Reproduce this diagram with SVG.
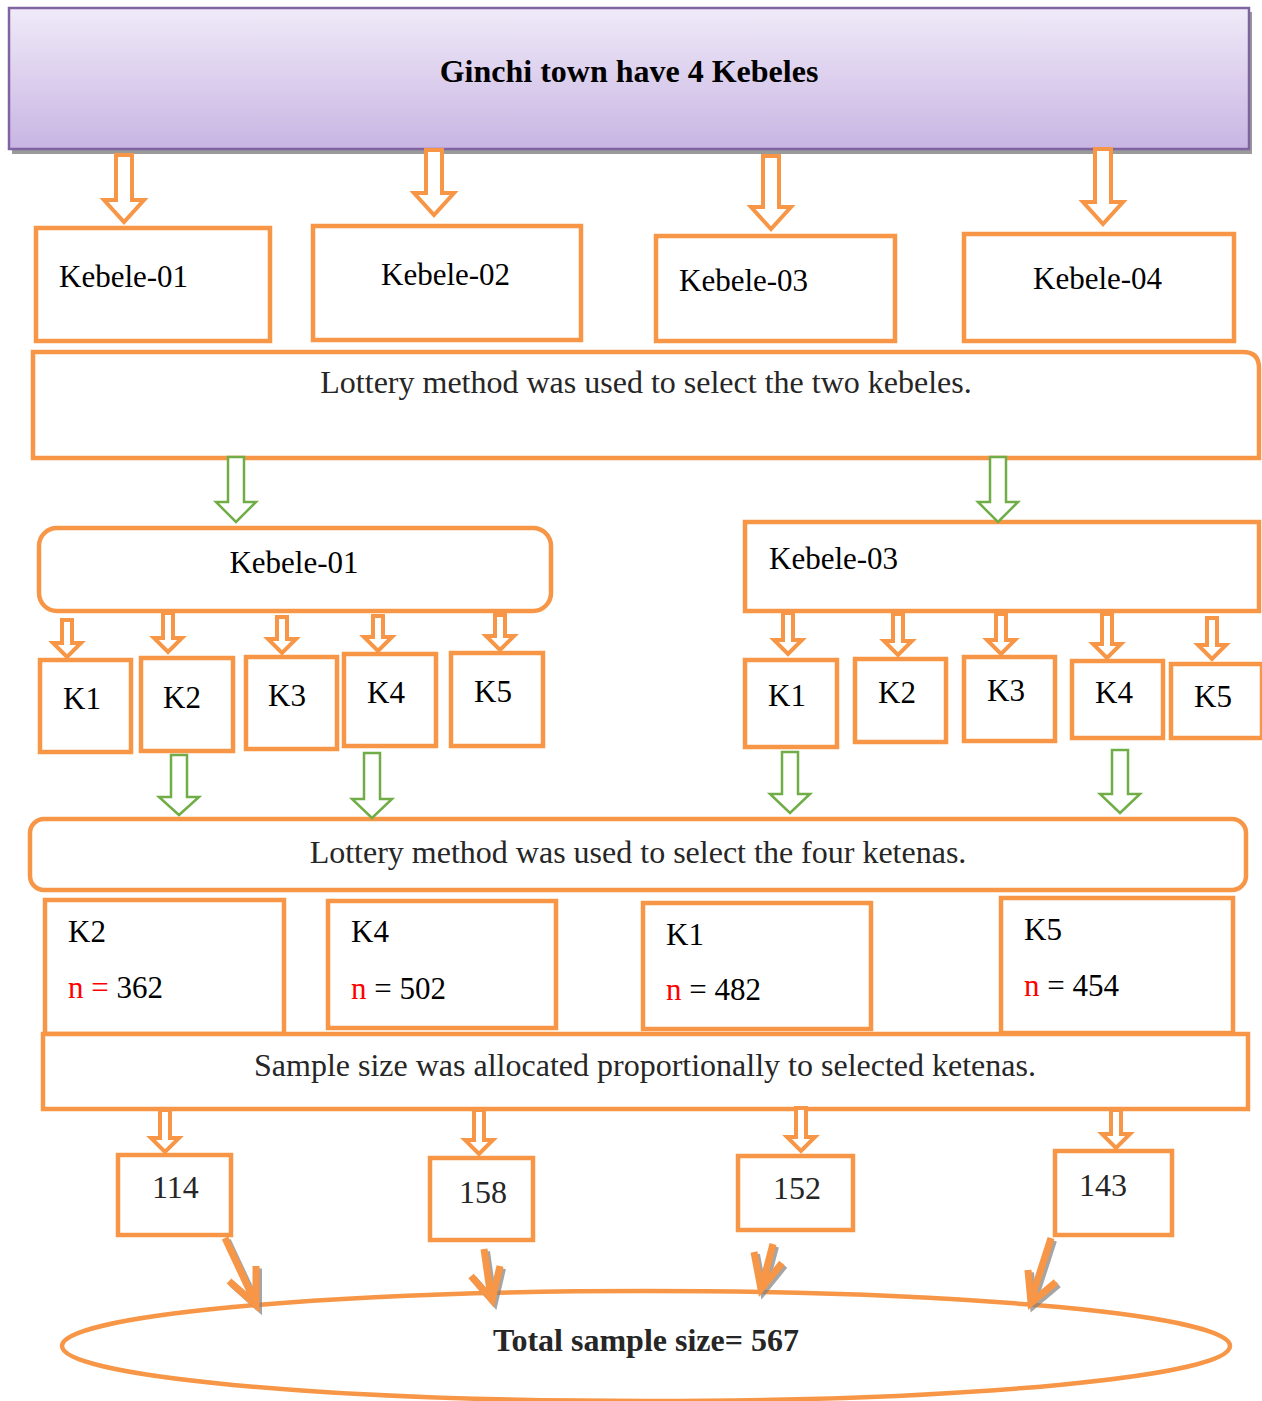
<svg xmlns="http://www.w3.org/2000/svg" width="1262" height="1401" viewBox="0 0 1262 1401">
<defs>
<linearGradient id="purp" x1="0" y1="0" x2="0" y2="1">
<stop offset="0" stop-color="#f0eaf8"/>
<stop offset="1" stop-color="#c8b5e3"/>
</linearGradient>
<style>
.box{fill:#fff;stroke:#f79646;stroke-width:4.5}
.oa{fill:#fff;stroke:#f79646;stroke-width:4;stroke-linejoin:miter}
.ga{fill:#fff;stroke:#70ad47;stroke-width:2.5;stroke-linejoin:miter}
.t{font-family:"Liberation Serif","Times New Roman",serif;font-size:31px;fill:#000}
.tg{font-family:"Liberation Serif","Times New Roman",serif;font-size:32px;fill:#262626}
.tb{font-family:"Liberation Serif","Times New Roman",serif;font-size:32px;font-weight:bold;fill:#000}
.red{fill:#ff0000}
.ln{fill:none;stroke:#f79646;stroke-width:7;stroke-linecap:butt;stroke-linejoin:miter}
.sh{fill:none;stroke:#7f7f7f;stroke-opacity:0.7;stroke-width:7;stroke-linecap:butt;stroke-linejoin:miter}
</style>
</defs>
<rect width="1262" height="1401" fill="#fff"/>

<g id="title">
<rect x="12" y="12" width="1240" height="142" fill="#9a9a9a"/>
<rect x="9" y="8" width="1240" height="141" fill="url(#purp)" stroke="#8064a2" stroke-width="2.5"/>
<text class="tb" x="629" y="82" text-anchor="middle">Ginchi town have 4 Kebeles</text>
</g>

<g id="kebele-01"><rect class="box" x="36" y="228" width="234" height="113"/><text class="t" x="59" y="287">Kebele-01</text></g>
<g id="kebele-02"><rect class="box" x="313" y="226" width="268" height="114"/><text class="t" x="381" y="285">Kebele-02</text></g>
<g id="kebele-03"><rect class="box" x="656" y="236" width="239" height="105"/><text class="t" x="679" y="291">Kebele-03</text></g>
<g id="kebele-04"><rect class="box" x="964" y="234" width="270" height="107"/><text class="t" x="1033" y="289">Kebele-04</text></g>

<g id="lottery-kebeles">
<path class="box" d="M33,352 H1243 Q1259,352 1259,368 V458 H33 Z"/>
<text class="tg" x="646" y="393" text-anchor="middle">Lottery method was used to select the two kebeles.</text>
</g>

<g id="sel-kebele-01"><rect class="box" x="39" y="528" width="512" height="83" rx="18"/><text class="t" x="294" y="573" text-anchor="middle">Kebele-01</text></g>
<g id="sel-kebele-03"><rect class="box" x="745" y="522" width="514" height="89"/><text class="t" x="769" y="569">Kebele-03</text></g>

<g id="k01-K1"><rect class="box" x="40" y="660" width="91" height="92"/><text class="t" x="63" y="709">K1</text></g>
<g id="k01-K2"><rect class="box" x="141" y="658" width="92" height="93"/><text class="t" x="163" y="708">K2</text></g>
<g id="k01-K3"><rect class="box" x="246" y="657" width="91" height="92"/><text class="t" x="268" y="706">K3</text></g>
<g id="k01-K4"><rect class="box" x="344" y="654" width="92" height="92"/><text class="t" x="367" y="703">K4</text></g>
<g id="k01-K5"><rect class="box" x="451" y="653" width="92" height="93"/><text class="t" x="474" y="702">K5</text></g>

<g id="k03-K1"><rect class="box" x="745" y="660" width="92" height="87"/><text class="t" x="768" y="706">K1</text></g>
<g id="k03-K2"><rect class="box" x="855" y="659" width="91" height="83"/><text class="t" x="878" y="703">K2</text></g>
<g id="k03-K3"><rect class="box" x="964" y="657" width="91" height="84"/><text class="t" x="987" y="701">K3</text></g>
<g id="k03-K4"><rect class="box" x="1072" y="661" width="91" height="77"/><text class="t" x="1095" y="703">K4</text></g>
<g id="k03-K5"><rect class="box" x="1171" y="664" width="91" height="74"/><text class="t" x="1194" y="707">K5</text></g>

<g id="lottery-ketenas">
<rect class="box" x="30" y="819" width="1216" height="71" rx="14"/>
<text class="tg" x="638" y="863" text-anchor="middle">Lottery method was used to select the four ketenas.</text>
</g>

<g id="sel-K2"><rect class="box" x="45" y="900" width="239" height="134"/><text class="t" x="68" y="942">K2</text><text class="t" x="68" y="998"><tspan class="red">n =</tspan> 362</text></g>
<g id="sel-K4"><rect class="box" x="328" y="901" width="228" height="127"/><text class="t" x="351" y="942">K4</text><text class="t" x="351" y="999"><tspan class="red">n</tspan> = 502</text></g>
<g id="sel-K1"><rect class="box" x="643" y="903" width="228" height="126"/><text class="t" x="666" y="945">K1</text><text class="t" x="666" y="1000"><tspan class="red">n</tspan> = 482</text></g>
<g id="sel-K5"><rect class="box" x="1001" y="898" width="232" height="135"/><text class="t" x="1024" y="940">K5</text><text class="t" x="1024" y="996"><tspan class="red">n</tspan> = 454</text></g>

<g id="allocation">
<rect class="box" x="43" y="1034" width="1205" height="75"/>
<text class="tg" x="645" y="1076" text-anchor="middle">Sample size was allocated proportionally to selected ketenas.</text>
</g>

<g id="n-114"><rect class="box" x="118" y="1155" width="113" height="80"/><text class="tg" x="152" y="1198">114</text></g>
<g id="n-158"><rect class="box" x="430" y="1158" width="103" height="82"/><text class="tg" x="459" y="1203">158</text></g>
<g id="n-152"><rect class="box" x="738" y="1156" width="115" height="74"/><text class="tg" x="773" y="1199">152</text></g>
<g id="n-143"><rect class="box" x="1055" y="1151" width="117" height="84"/><text class="tg" x="1079" y="1196">143</text></g>

<g id="total">
<ellipse cx="646" cy="1346" rx="584" ry="55" fill="#fff" stroke="#f79646" stroke-width="4.5"/>
<text class="tb" x="646" y="1351" text-anchor="middle" style="fill:#262626">Total sample size= 567</text>
</g>

<g id="connectors">
<path class="oa" d="M116,155 H132 V200 H144 L124,222 L104,200 H116 Z"/>
<path class="oa" d="M426,150 H442 V193 H454 L434,215 L414,193 H426 Z"/>
<path class="oa" d="M763,156 H779 V207 H791 L771,229 L751,207 H763 Z"/>
<path class="oa" d="M1095,149 H1111 V202 H1123 L1103,224 L1083,202 H1095 Z"/>

<path class="ga" d="M228,457 H244 V502 H256 L236,522 L216,502 H228 Z"/>
<path class="ga" d="M990,457 H1006 V502 H1018 L998,522 L978,502 H990 Z"/>

<path class="oa" d="M62,620 H72 V643 H81 L67,657 L53,643 H62 Z"/>
<path class="oa" d="M163,613 H173 V638 H182 L168,652 L154,638 H163 Z"/>
<path class="oa" d="M277,617 H287 V639 H296 L282,653 L268,639 H277 Z"/>
<path class="oa" d="M373,616 H383 V637 H392 L378,651 L364,637 H373 Z"/>
<path class="oa" d="M495,615 H505 V636 H514 L500,650 L486,636 H495 Z"/>
<path class="oa" d="M783,613 H793 V640 H802 L788,654 L774,640 H783 Z"/>
<path class="oa" d="M893,614 H903 V641 H912 L898,655 L884,641 H893 Z"/>
<path class="oa" d="M996,614 H1006 V640 H1015 L1001,654 L987,640 H996 Z"/>
<path class="oa" d="M1102,614 H1112 V644 H1121 L1107,658 L1093,644 H1102 Z"/>
<path class="oa" d="M1207,618 H1217 V645 H1226 L1212,659 L1198,645 H1207 Z"/>

<path class="ga" d="M171,755 H187 V797 H199 L179,815 L159,797 H171 Z"/>
<path class="ga" d="M364,753 H380 V799 H392 L372,818 L352,799 H364 Z"/>
<path class="ga" d="M782,752 H798 V794 H810 L790,813 L770,794 H782 Z"/>
<path class="ga" d="M1112,750 H1128 V794 H1140 L1120,813 L1100,794 H1112 Z"/>

<path class="oa" d="M160,1110 H170 V1138 H179 L165,1152 L151,1138 H160 Z"/>
<path class="oa" d="M474,1110 H484 V1140 H493 L479,1154 L465,1140 H474 Z"/>
<path class="oa" d="M796,1108 H806 V1137 H815 L801,1151 L787,1137 H796 Z"/>
<path class="oa" d="M1111,1110 H1121 V1134 H1130 L1116,1148 L1102,1134 H1111 Z"/>

<g transform="translate(2.5,2.5)">
<path class="sh" d="M225,1238 L255,1302 M229,1281 L256,1305 L256,1266"/>
<path class="sh" d="M484,1249 L491,1298 M471,1276 L492,1300 L500,1266"/>
<path class="sh" d="M773,1244 L762,1286 M754,1252 L761,1289 L782,1263"/>
<path class="sh" d="M1051,1238 L1031,1300 M1028,1270 L1031,1303 L1056,1282"/>
</g>
<path class="ln" d="M225,1238 L255,1302 M229,1281 L256,1305 L256,1266"/>
<path class="ln" d="M484,1249 L491,1298 M471,1276 L492,1300 L500,1266"/>
<path class="ln" d="M773,1244 L762,1286 M754,1252 L761,1289 L782,1263"/>
<path class="ln" d="M1051,1238 L1031,1300 M1028,1270 L1031,1303 L1056,1282"/>
</g>
</svg>
